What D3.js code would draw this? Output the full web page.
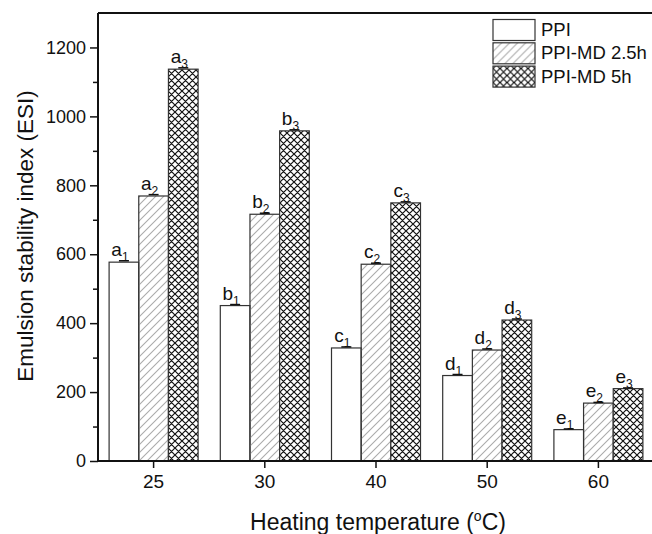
<!DOCTYPE html>
<html>
<head>
<script src="https://cdn.jsdelivr.net/npm/d3@7"></script>
<style>
  body { margin: 0; background: #fff; }
  text { font-family: "Liberation Sans", Arial, sans-serif; fill: #111; }
</style>
</head>
<body>
<script>
// data
var temps = ["25", "30", "40", "50", "60"];
var seriesNames = ["PPI", "PPI-MD 2.5h", "PPI-MD 5h"];
var ppi    = [577, 451, 328, 248, 91];
var ppi25h = [769, 716, 571, 322, 168];
var ppi5h  = [1137, 958, 749, 409, 210];
var letters = ["a", "b", "c", "d", "e"];
var errs = [[4, 3, 3, 3, 2], [4, 3, 3, 3, 2], [4, 3, 3, 3, 2]];
var yTicks = [0, 200, 400, 600, 800, 1000, 1200];

var W = 652, H = 534;
var mLeft = 98, mTop = 13, mBottom = 461, mRight = 654;

var svg = d3.select("body").append("svg").attr("width", W).attr("height", H);

// patterns
var defs = svg.append("defs");
var p1 = defs.append("pattern").attr("id", "hatch").attr("patternUnits", "userSpaceOnUse")
  .attr("width", 8).attr("height", 8);
p1.append("path").attr("d", "M-2,2 l4,-4 M0,8 l8,-8 M6,10 l4,-4")
  .attr("stroke", "#ababab").attr("stroke-width", 1.1);

var p2 = defs.append("pattern").attr("id", "cross").attr("patternUnits", "userSpaceOnUse")
  .attr("width", 7).attr("height", 7);
p2.append("rect").attr("width", 7).attr("height", 7).attr("fill", "#fff");
p2.append("path").attr("d", "M-1.75,1.75 l3.5,-3.5 M0,7 l7,-7 M5.25,8.75 l3.5,-3.5 M-1.75,5.25 l3.5,3.5 M0,0 l7,7 M5.25,-1.75 l3.5,3.5")
  .attr("stroke", "#111").attr("stroke-width", 1.2);

var fills = ["#fff", "url(#hatch)", "url(#cross)"];
var series = [ppi, ppi25h, ppi5h];

var x = d3.scaleBand().domain(temps).range([mLeft, mRight]).padding(0);
var y = d3.scaleLinear().domain([0, 1300]).range([mBottom, mTop]);
var groupW = 89;
var x1 = d3.scaleBand().domain([0, 1, 2]).range([0, groupW]).padding(0);

function barX(i, s) { return x(temps[i]) + x.bandwidth() / 2 - groupW / 2 + x1(s); }

// bars
series.forEach(function(vals, s) {
  var g = svg.append("g");
  g.selectAll("rect").data(vals).enter().append("rect")
    .attr("x", function(d, i) { return barX(i, s); })
    .attr("y", function(d) { return y(d); })
    .attr("width", x1.bandwidth())
    .attr("height", function(d) { return mBottom - y(d); })
    .attr("fill", fills[s])
    .attr("stroke", "#333").attr("stroke-width", 1.2);

  // small error caps
  g.selectAll("line.cap").data(vals).enter().append("line")
    .attr("x1", function(d, i) { return barX(i, s) + x1.bandwidth() / 2 - 5; })
    .attr("x2", function(d, i) { return barX(i, s) + x1.bandwidth() / 2 + 5; })
    .attr("y1", function(d, i) { return y(d + errs[s][i]); })
    .attr("y2", function(d, i) { return y(d + errs[s][i]); })
    .attr("stroke", "#111").attr("stroke-width", 1.5);

  // letters
  var t = g.selectAll("text").data(vals).enter().append("text")
    .attr("x", function(d, i) { return barX(i, s) + x1.bandwidth() / 2 - 4; })
    .attr("y", function(d) { return y(d) - 6; })
    .attr("text-anchor", "middle")
    .style("font-size", "19px");
  t.append("tspan").text(function(d, i) { return letters[i]; });
  t.append("tspan").attr("dy", 5).style("font-size", "12px").style("fill", "#111").text(String(s + 1));
});

// y axis
var yAxis = svg.append("g").attr("transform", "translate(" + mLeft + ",0)")
  .call(d3.axisLeft(y).tickValues(yTicks).tickSize(8).tickPadding(4).tickFormat(d3.format("d")));
yAxis.select(".domain").remove();
yAxis.selectAll("line").attr("stroke", "#111").attr("stroke-width", 1.5);
yAxis.selectAll("text").style("font-size", "18px").attr("fill", "#111");
svg.append("g").attr("transform", "translate(" + mLeft + ",0)")
  .call(d3.axisLeft(y).tickValues(d3.range(100, 1300, 200)).tickSize(5).tickFormat(""))
  .call(function(g) { g.select(".domain").remove(); g.selectAll("line").attr("stroke", "#111").attr("stroke-width", 1.5); });

// x axis
var xAxis = svg.append("g").attr("transform", "translate(0," + mBottom + ")")
  .call(d3.axisBottom(x).tickSize(7).tickPadding(7));
xAxis.select(".domain").remove();
xAxis.selectAll("line").attr("stroke", "#111").attr("stroke-width", 1.5);
xAxis.selectAll("text").style("font-size", "19px").attr("fill", "#111");

// frame
svg.append("line").attr("x1", mLeft).attr("x2", W).attr("y1", mBottom).attr("y2", mBottom)
  .attr("stroke", "#111").attr("stroke-width", 2);
svg.append("line").attr("x1", mLeft).attr("x2", W).attr("y1", mTop).attr("y2", mTop)
  .attr("stroke", "#111").attr("stroke-width", 2);
svg.append("line").attr("x1", mLeft).attr("x2", mLeft).attr("y1", mTop).attr("y2", mBottom)
  .attr("stroke", "#111").attr("stroke-width", 2);

// axis titles
svg.append("text").attr("transform", "translate(33," + 236 + ") rotate(-90)")
  .attr("text-anchor", "middle").style("font-size", "22.5px")
  .text("Emulsion stability index (ESI)");
var xt = svg.append("text").attr("x", 378).attr("y", 530).attr("text-anchor", "middle").style("font-size", "23px");
xt.append("tspan").text("Heating temperature (");
xt.append("tspan").attr("dy", -9).style("font-size", "14px").text("o");
xt.append("tspan").attr("dy", 9).text("C)");

// legend
var lg = svg.append("g").attr("transform", "translate(493,19.5)");
seriesNames.forEach(function(n, i) {
  lg.append("rect").attr("x", 0).attr("y", i * 23.3).attr("width", 42).attr("height", 21)
    .attr("fill", fills[i]).attr("stroke", "#333").attr("stroke-width", 1.2);
  lg.append("text").attr("x", 48).attr("y", i * 23.3 + 16.5).style("font-size", "18.5px").text(n);
});
</script>
</body>
</html>
